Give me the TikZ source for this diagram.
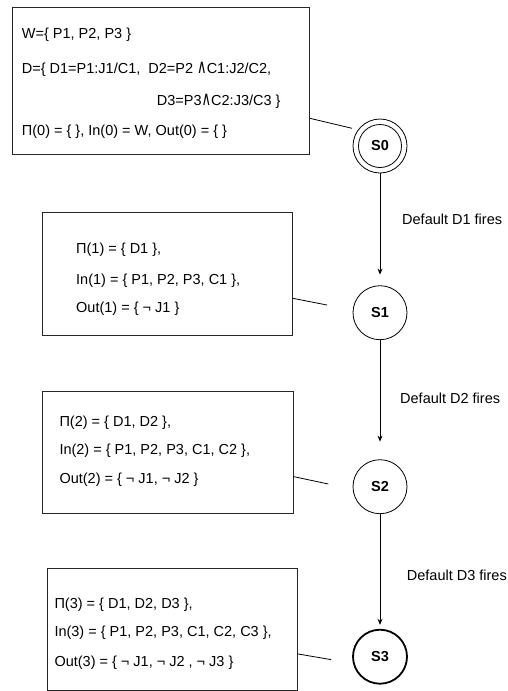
\documentclass[tikz,border=0pt]{standalone}
\usepackage{fontspec}
\setmainfont{Liberation Sans}
\newfontfamily\symfont{DejaVu Sans}
\usetikzlibrary{arrows.meta,calc}
\newcommand{\wedgesym}{\scalebox{0.9}[1.35]{\symfont\char"2227}}
\begin{document}
\begin{tikzpicture}[x=1pt,y=-1pt,
  every node/.style={font=\fontsize{14.5}{17}\selectfont},
  infobox/.style={draw=black!85,line width=0.8pt,anchor=north west,inner sep=0pt},
  txt/.style={anchor=base west,inner sep=0pt},
  state/.style={draw,circle,minimum size=54pt,inner sep=0pt,line width=0.8pt,font=\fontsize{14.5}{17}\selectfont\bfseries},
  link/.style={line width=0.8pt},
  fire/.style={line width=0.8pt,-{Stealth[length=6pt,width=5pt]}},
  firelabel/.style={anchor=west,inner sep=0pt}]
\useasboundingbox (0,0) rectangle (507,691);

% state 0 with its knowledge base
\node[infobox,minimum width=297pt,minimum height=147pt] (box0) at (12,7) {};
\node[txt] (w0) at (21.7,38.5) {W=\{ P1, P2, P3 \}};
\node[txt] (d0) at (21.7,73.5) {D=\{ D1=P1:J1/C1,\ \ D2=P2 \wedgesym C1:J2/C2,};
\node[txt] (d0b) at (156.7,105.2) {D3=P3\wedgesym C2:J3/C3 \}};
\node[txt] (p0) at (21.7,135.2) {Π(0) = \{ \}, In(0) = W, Out(0) = \{ \}};
\node[state] (S0) at (380,146) {S0};
\draw[line width=0.8pt] (S0) circle (21.5);
\coordinate (e0) at (352,128.3);
\draw[link] ($(box0.north east)!0.753!(box0.south east)$) -- (e0);

% state 1
\node[infobox,minimum width=250pt,minimum height=122.7pt] (box1) at (41.7,212.3) {};
\node[txt] (p1) at (76,253.5) {Π(1) = \{ D1 \},};
\node[txt] (i1) at (76,284.5) {In(1) = \{ P1, P2, P3, C1 \},};
\node[txt] (o1) at (76,312.5) {Out(1) = \{ ¬ J1 \}};
\node[state] (S1) at (380,312.7) {S1};
\coordinate (e1) at (327,305);
\draw[link] ($(box1.north east)!0.696!(box1.south east)$) -- (e1);

% state 2
\node[infobox,minimum width=250.4pt,minimum height=122.6pt] (box2) at (42.3,390.7) {};
\node[txt] (p2) at (59.3,426.9) {Π(2) = \{ D1, D2 \},};
\node[txt] (i2) at (59.3,454.5) {In(2) = \{ P1, P2, P3, C1, C2 \},};
\node[txt] (o2) at (59.3,483.5) {Out(2) = \{ ¬ J1, ¬ J2 \}};
\node[state] (S2) at (380,486.7) {S2};
\coordinate (e2) at (328.3,484);
\draw[link] ($(box2.north east)!0.696!(box2.south east)$) -- (e2);

% state 3
\node[infobox,minimum width=249.4pt,minimum height=122.3pt] (box3) at (47.3,567.7) {};
\node[txt] (p3) at (54.3,608.5) {Π(3) = \{ D1, D2, D3 \},};
\node[txt] (i3) at (54.3,636.9) {In(3) = \{ P1, P2, P3, C1, C2, C3 \},};
\node[txt] (o3) at (54.3,666.9) {Out(3) = \{ ¬ J1, ¬ J2 , ¬ J3 \}};
\node[state,line width=1.8pt] (S3) at (380,656.7) {S3};
\coordinate (e3) at (331,659.6);
\draw[link] ($(box3.north east)!0.70!(box3.south east)$) -- (e3);

% transitions
\draw[fire,shorten >=10.7pt] (S0) -- (S1);
\draw[fire,shorten >=17.7pt] (S1) -- (S2);
\draw[fire,shorten >=4pt] (S2) -- (S3);
\node[firelabel] (f1) at (402,219) {Default D1 fires};
\node[firelabel] (f2) at (400,398.3) {Default D2 fires};
\node[firelabel] (f3) at (406.7,575) {Default D3 fires};
\end{tikzpicture}
\end{document}
